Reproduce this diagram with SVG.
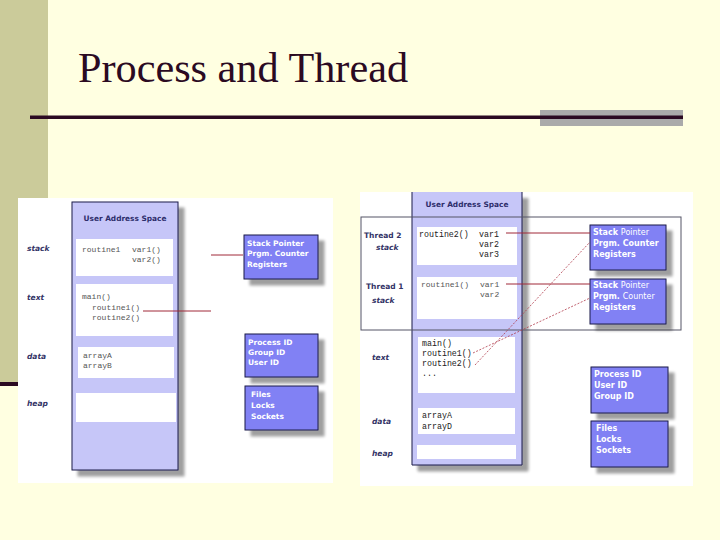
<svg xmlns="http://www.w3.org/2000/svg" width="720" height="540" viewBox="0 0 720 540">
<defs>
<filter id="sh" x="-20%" y="-20%" width="160%" height="160%">
<feGaussianBlur in="SourceAlpha" stdDeviation="1.6"/>
<feOffset dx="6" dy="6" result="o"/>
<feComponentTransfer><feFuncA type="linear" slope="0.38"/></feComponentTransfer>
<feMerge><feMergeNode/><feMergeNode in="SourceGraphic"/></feMerge>
</filter>
<style>
.col{fill:#c6c6f8;stroke:#1c1c48;stroke-width:1}
.wb{fill:#ffffff}
.bb{fill:#8181f4;stroke:#1c1c48;stroke-width:1}
.hd{font-family:"DejaVu Sans",Verdana,sans-serif;font-weight:bold;font-size:7.4px;fill:#2d2d6b;text-anchor:middle}
.lb{font-family:"DejaVu Sans",Verdana,sans-serif;font-weight:bold;font-style:italic;font-size:7.5px;fill:#333366}
.lt{font-family:"DejaVu Sans",Verdana,sans-serif;font-weight:bold;font-size:7.5px;fill:#333366}
.bt{font-family:"DejaVu Sans",Verdana,sans-serif;font-weight:bold;font-size:7.5px;fill:#ffffff}
.bt2{font-family:"DejaVu Sans",Verdana,sans-serif;font-weight:bold;font-size:8px;fill:#ffffff}
.nw{font-weight:normal}
.mo{font-family:"Liberation Mono","Courier New",monospace;font-size:8px;fill:#555555}
.mo2{font-family:"Liberation Mono","Courier New",monospace;font-size:8.3px;fill:#222222}
.rl{stroke:#a02838;stroke-width:1;fill:none}
.dl{stroke:#b03a4a;stroke-width:0.8;stroke-dasharray:2 1.5;fill:none}
</style>
</defs>
<rect x="0" y="0" width="720" height="540" fill="#ffffe1"/>
<g id="sidebar">
<rect x="0" y="0" width="48" height="382" fill="#cbcb9a"/>
<rect x="0" y="382" width="48" height="4" fill="#2b0a22"/>
</g>
<g id="title">
<text x="78" y="82" font-family="'Liberation Serif','Times New Roman',serif" font-size="42" fill="#2b0a22" textLength="330" lengthAdjust="spacingAndGlyphs">Process and Thread</text>
<rect x="540" y="110" width="143" height="16" fill="#aaaaaa"/>
<rect x="30" y="115.5" width="653" height="3.5" fill="#2b0a22"/>
</g>

<g id="left-diagram">
<rect x="18" y="198" width="315" height="285" fill="#ffffff"/>
<g id="l-uas">
<rect class="col" x="72" y="202" width="106" height="268" filter="url(#sh)"/>
<text class="hd" x="125" y="221">User Address Space</text>
</g>
<g id="l-stack">
<rect class="wb" x="76" y="239" width="97" height="37"/>
<text class="lb" x="27" y="251">stack</text>
<text class="mo" x="82" y="252">routine1</text>
<text class="mo" x="132" y="252">var1()</text>
<text class="mo" x="132" y="262">var2()</text>
</g>
<g id="l-text">
<rect class="wb" x="76" y="284" width="97" height="52"/>
<text class="lb" x="27" y="300">text</text>
<text class="mo" x="82" y="299">main()</text>
<text class="mo" x="92" y="310">routine1()</text>
<text class="mo" x="92" y="320">routine2()</text>
</g>
<g id="l-data">
<rect class="wb" x="78" y="347" width="96" height="31"/>
<text class="lb" x="27" y="359">data</text>
<text class="mo" x="83" y="358">arrayA</text>
<text class="mo" x="83" y="368">arrayB</text>
</g>
<g id="l-heap">
<rect class="wb" x="76" y="393" width="100" height="29"/>
<text class="lb" x="27" y="406">heap</text>
</g>
<g id="l-regs">
<rect class="bb" x="244" y="235" width="74" height="44" filter="url(#sh)"/>
<text class="bt" x="247" y="246">Stack Pointer</text>
<text class="bt" x="247" y="256">Prgm. Counter</text>
<text class="bt" x="247" y="267">Registers</text>
</g>
<g id="l-ids">
<rect class="bb" x="245" y="334" width="73" height="43" filter="url(#sh)"/>
<text class="bt" x="248" y="345">Process ID</text>
<text class="bt" x="248" y="355">Group ID</text>
<text class="bt" x="248" y="365">User ID</text>
</g>
<g id="l-files">
<rect class="bb" x="245" y="386" width="73" height="44" filter="url(#sh)"/>
<text class="bt" x="251" y="397">Files</text>
<text class="bt" x="251" y="408">Locks</text>
<text class="bt" x="251" y="419">Sockets</text>
</g>
<g id="l-connectors">
<line class="rl" x1="211" y1="255" x2="243" y2="255"/>
<line class="rl" x1="143" y1="311" x2="211" y2="311"/>
</g>
</g>

<g id="right-diagram">
<rect x="360" y="192" width="333" height="294" fill="#ffffff"/>
<g id="r-uas">
<path class="col" d="M412,192 V465 H522 V192" filter="url(#sh)"/>
<text class="hd" x="467" y="207">User Address Space</text>
</g>
<rect id="r-threads" x="361" y="217" width="320" height="113" fill="none" stroke="#555566" stroke-width="1"/>
<g id="r-t2stack">
<rect class="wb" x="417" y="227" width="100" height="38"/>
<text class="lt" x="364" y="238">Thread 2</text>
<text class="lb" x="376" y="250">stack</text>
<text class="mo2" x="419" y="237">routine2()</text>
<text class="mo2" x="479" y="237">var1</text>
<text class="mo2" x="479" y="247">var2</text>
<text class="mo2" x="479" y="257">var3</text>
</g>
<g id="r-t1stack">
<rect class="wb" x="417" y="277" width="100" height="42"/>
<text class="lt" x="366" y="289">Thread 1</text>
<text class="lb" x="372" y="303">stack</text>
<text class="mo" x="421" y="287">routine1()</text>
<text class="mo" x="480" y="287">var1</text>
<text class="mo" x="480" y="297">var2</text>
</g>
<g id="r-text">
<rect class="wb" x="418" y="337" width="97" height="56"/>
<text class="lb" x="372" y="360">text</text>
<text class="mo2" x="422" y="346">main()</text>
<text class="mo2" x="422" y="356">routine1()</text>
<text class="mo2" x="422" y="366">routine2()</text>
<text class="mo2" x="422" y="376">...</text>
</g>
<g id="r-data">
<rect class="wb" x="418" y="408" width="97" height="26"/>
<text class="lb" x="372" y="424">data</text>
<text class="mo2" x="422" y="418">arrayA</text>
<text class="mo2" x="422" y="429">arrayD</text>
</g>
<g id="r-heap">
<rect class="wb" x="417" y="445" width="99" height="14"/>
<text class="lb" x="372" y="456">heap</text>
</g>
<g id="r-regs2">
<rect class="bb" x="590" y="225" width="76" height="45" filter="url(#sh)"/>
<text class="bt2" x="593" y="235">Stack <tspan class="nw">Pointer</tspan></text>
<text class="bt2" x="593" y="246">Prgm. Counter</text>
<text class="bt2" x="593" y="257">Registers</text>
</g>
<g id="r-regs1">
<rect class="bb" x="590" y="279" width="76" height="45" filter="url(#sh)"/>
<text class="bt2" x="593" y="288">Stack <tspan class="nw">Pointer</tspan></text>
<text class="bt2" x="593" y="299">Prgm. <tspan class="nw">Counter</tspan></text>
<text class="bt2" x="593" y="310">Registers</text>
</g>
<g id="r-ids">
<rect class="bb" x="591" y="367" width="77" height="46" filter="url(#sh)"/>
<text class="bt2" x="594" y="377">Process ID</text>
<text class="bt2" x="594" y="388">User ID</text>
<text class="bt2" x="594" y="399">Group ID</text>
</g>
<g id="r-files">
<rect class="bb" x="591" y="421" width="77" height="46" filter="url(#sh)"/>
<text class="bt2" x="596" y="431">Files</text>
<text class="bt2" x="596" y="442">Locks</text>
<text class="bt2" x="596" y="453">Sockets</text>
</g>
<g id="r-connectors">
<line class="rl" x1="506" y1="233" x2="590" y2="233"/>
<line class="rl" x1="506" y1="284" x2="590" y2="284"/>
<line class="dl" x1="473" y1="353" x2="590" y2="298"/>
<line class="dl" x1="475" y1="365" x2="590" y2="242"/>
</g>
</g>
</svg>
